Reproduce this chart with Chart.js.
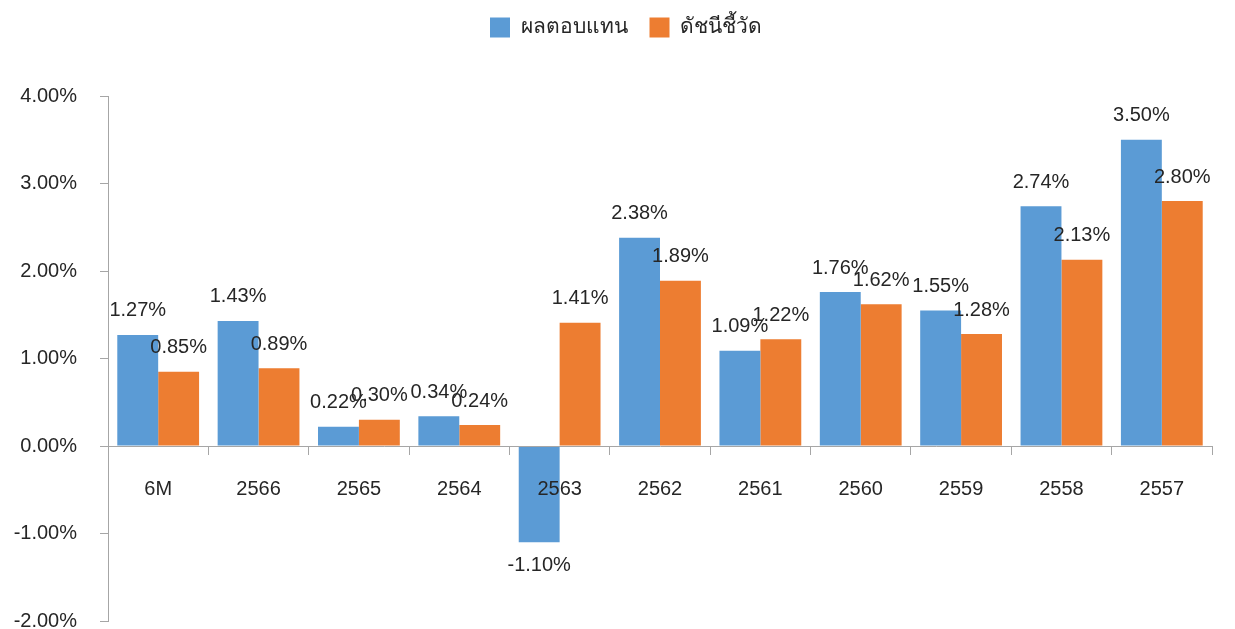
<!DOCTYPE html>
<html><head><meta charset="utf-8">
<script src="https://cdn.jsdelivr.net/npm/chart.js@4/dist/chart.umd.min.js"></script>
<style>html,body{margin:0;padding:0;background:#fff;}#wrap{width:1235px;height:629px;position:relative;}</style>
</head><body><div id="wrap"><canvas id="c"></canvas></div>
<script>
const categories = ['6M','2566','2565','2564','2563','2562','2561','2560','2559','2558','2557'];
const returnsSeries = [1.27, 1.43, 0.22, 0.34, -1.10, 2.38, 1.09, 1.76, 1.55, 2.74, 3.50];
const benchmarkSeries = [0.85, 0.89, 0.30, 0.24, 1.41, 1.89, 1.22, 1.62, 1.28, 2.13, 2.80];
const seriesNames = ['ผลตอบแทน', 'ดัชนีชี้วัด'];
const yTicks = [-2, -1, 0, 1, 2, 3, 4];

const FONT = "'Liberation Sans', Arial, 'Noto Sans', sans-serif";
const TXT = '#262626';
const AX = '#A6A6A6';

const dataLabels = {
  id: 'dataLabels',
  afterDraw(chart) {
    const ctx = chart.ctx;
    ctx.save();
    ctx.font = '20px ' + FONT;
    ctx.fillStyle = TXT;
    ctx.textAlign = 'center';
    ctx.textBaseline = 'middle';
    chart.data.datasets.forEach((ds, i) => {
      const meta = chart.getDatasetMeta(i);
      meta.data.forEach((el, j) => {
        const v = ds.data[j];
        const y = v >= 0 ? el.y - 24 : el.y + 23;
        ctx.fillText(v.toFixed(2) + '%', el.x, y);
      });
    });
    ctx.restore();
  }
};

const legendAdjust = {
  id: 'legendAdjust',
  beforeInit(chart) {
    const lg = chart.legend;
    const origFit = lg.fit;
    lg.fit = function () { origFit.call(this); this.height = 96; };
    const origDraw = lg.draw;
    lg.draw = function () {
      const ctx = this.ctx;
      ctx.save();
      ctx.translate(20, -5);
      origDraw.call(this);
      ctx.restore();
    };
  }
};

new Chart(document.getElementById('c'), {
  type: 'bar',
  data: {
    labels: categories,
    datasets: [
      { label: seriesNames[0], data: returnsSeries, backgroundColor: '#5B9BD5', categoryPercentage: 0.815, barPercentage: 1.0 },
      { label: seriesNames[1], data: benchmarkSeries, backgroundColor: '#ED7D31', categoryPercentage: 0.815, barPercentage: 1.0 }
    ]
  },
  options: {
    responsive: true,
    maintainAspectRatio: false,
    animation: false,
    layout: { padding: { left: 0, right: 23, top: 0, bottom: 8 } },
    plugins: {
      tooltip: { enabled: false },
      legend: {
        position: 'top',
        labels: { boxWidth: 20, boxHeight: 20, padding: 22, color: TXT, font: { family: FONT, size: 21 } }
      }
    },
    scales: {
      x: {
        position: { y: 0 },
        grid: { display: true, offset: true, drawOnChartArea: false, drawTicks: true, tickLength: 8, color: AX, lineWidth: 1, z: 1 },
        border: { display: true, color: AX, width: 1, z: 1 },
        ticks: { color: TXT, padding: 23, font: { family: FONT, size: 20 }, maxRotation: 0, z: 1 }
      },
      y: {
        min: -2, max: 4,
        afterFit(s) { s.width = 108; s.paddingTop = 0; s.paddingBottom = 0; },
        afterBuildTicks(s) { s.ticks = yTicks.map(v => ({ value: v })); },
        grid: { display: true, drawOnChartArea: false, drawTicks: true, tickLength: 8, color: AX, lineWidth: 1 },
        border: { display: true, color: AX, width: 1 },
        ticks: { color: TXT, padding: 23, font: { family: FONT, size: 20 }, callback: v => v.toFixed(2) + '%' }
      }
    }
  },
  plugins: [dataLabels, legendAdjust]
});
</script></body></html>
